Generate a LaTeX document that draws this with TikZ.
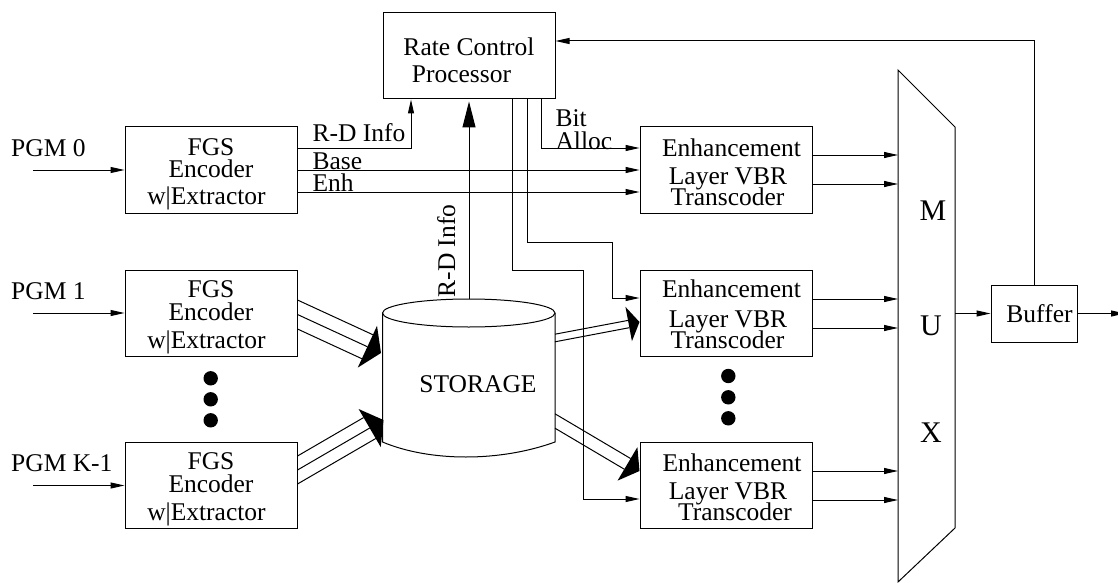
\documentclass[tikz,border=0pt]{standalone}
\usepackage{fontspec}
\setmainfont{Liberation Serif}
\usetikzlibrary{arrows.meta,calc}

% invisible struts that fix the height of a first line / depth of a last line
\newcommand\topst[1]{\rule{0pt}{#1}}
\newcommand\botst{\rule[-6pt]{0pt}{6pt}}

% bundle of parallel wires ending in one wide filled head
% #1 start, #2 tip, #3 head length, #4 head half-width,
% #5 list of (vertical offset at start)/(normal offset at head base)
\newcommand\wirebundle[5]{%
  \coordinate (wb-base) at ($(#2)!#3!(#1)$);
  \foreach \v/\p in {#5}{
    \draw ($(#1)+(0,\v)$) -- ($(wb-base)!\p!90:(#2)$);
  }
  \fill ($(wb-base)!#4!90:(#2)$) -- (#2) -- ($(wb-base)!#4!-90:(#2)$) -- cycle;
}

\tikzset{
  blk/.style={draw, rectangle, minimum width=172pt, minimum height=86pt,
              inner sep=0pt, align=center},
  sig/.style={-{Triangle[length=14pt,width=6pt]}},
  big/.style={-{Triangle[length=26pt,width=13pt]}},
  txt/.style={inner sep=0pt, anchor=base west},
  muxl/.style={inner sep=0pt, anchor=base, font=\fontsize{30}{32}\selectfont},
}

\begin{document}
\begin{tikzpicture}[x=1pt, y=-1pt, line width=1pt,
  every node/.style={font=\fontsize{25.5}{26}\selectfont}]
\useasboundingbox (0,0) rectangle (1118,583);

% ---- processing blocks ----
\node[blk] (rcp) at (469,56) {\topst{33pt}Rate Control\\[1pt]Processor\kern15pt\botst};

\node[blk] (fgs0) at (211,170) {\topst{25pt}FGS\\[-4pt]Encoder\\[1pt]w|Extractor\kern9pt\botst};
\node[blk] (fgs1) at (211,313) {\topst{25pt}FGS\\[-3pt]Encoder\\[2pt]w|Extractor\kern9pt\botst};
\node[blk] (fgsK) at (211,485.5) {\topst{24pt}FGS\\[-3pt]Encoder\\[2pt]w|Extractor\kern9pt\botst};

\node[blk] (enh0) at (726,170) {\topst{27pt}\kern11pt Enhancement\\[2pt]\kern4pt Layer VBR\\[-5pt]\kern3pt Transcoder\botst};
\node[blk] (enh1) at (726,313) {\topst{25pt}\kern11pt Enhancement\\[4pt]\kern4pt Layer VBR\\[-5pt]\kern3pt Transcoder\botst};
\node[blk] (enh2) at (726,485.5) {\topst{26pt}\kern12pt Enhancement\\[2pt]\kern4pt Layer VBR\\[-5pt]\kern18pt Transcoder\botst};

\node[blk, minimum width=86pt, minimum height=57pt] (buf) at (1034,313.5) {\kern11pt Buffer};

% ---- storage cylinder ----
\draw (382.5,313) -- (382.5,442) .. controls (430,462) and (500,462) .. (555,442) -- (555,313);
\draw (468.75,313) ellipse [x radius=86.25pt, y radius=14pt];
\node[inner sep=0pt, anchor=base] (stor) at (478,392.7) {STORAGE};
\coordinate (st-top) at (469,299);

% ---- multiplexer ----
\draw (898,70) -- (955,127) -- (955,528) -- (898,582) -- cycle;
\coordinate (mux-in) at (898,313.5);
\coordinate (mux-out) at (955,313.5);
\node[muxl] (mux-m) at (933,220) {M};
\node[muxl] (mux-u) at (931,335) {U};
\node[muxl] (mux-x) at (931,442.3) {X};

% ---- program inputs ----
\node[txt] (pgm0) at (10.7,156) {PGM 0};
\node[txt] (pgm1) at (10.7,299.3) {PGM 1};
\node[txt] (pgmK) at (10.7,471) {PGM K-1};
\coordinate (in0) at (33,170);
\coordinate (in1) at (33,313);
\coordinate (inK) at (33,485.5);
\draw[sig] (in0) -- (fgs0.west);
\draw[sig] (in1) -- (fgs1.west);
\draw[sig] (inK) -- (fgsK.west);

% ---- encoder 0 outputs ----
\draw[sig] ($(fgs0.east)+(0,-22)$) -| ($(rcp.south)+(-58,0)$);
\draw[sig] (fgs0.east) -- (enh0.west);
\draw[sig] ($(fgs0.east)+(0,22)$) -- ($(enh0.west)+(0,22)$);
\node[txt] (l-rd) at (312,142) {R-D Info};
\node[txt] (l-base) at (312,169) {Base};
\node[txt] (l-enh) at (312,191) {Enh};

% ---- bit allocation from the rate controller ----
\draw[sig] ($(rcp.south)+(72,0)$) |- ($(enh0.west)+(0,-22)$);
\node[txt] (l-bit) at (555,126) {Bit};
\node[txt] (l-alloc) at (555,149) {Alloc};
\coordinate (j1) at (612,242);
\coordinate (j2) at (583,270);
\draw[sig] ($(rcp.south)+(58,0)$) |- (j1) |- ($(enh1.west)+(0,-15)$);
\draw[sig] ($(rcp.south)+(43,0)$) |- (j2) |- ($(enh2.west)+(0,13.5)$);

% ---- R-D information from storage ----
\draw[big] (st-top) -- ($(rcp.south)+(0,2)$);
\node[rotate=90, anchor=base, inner sep=0pt] (l-rdv) at (455,251) {R-D Info};

% ---- wide bundles into and out of storage ----
\coordinate (s1) at ($(fgs1.east)+(0,1.5)$);
\coordinate (t1) at (381,353);
\wirebundle{s1}{t1}{15pt}{23pt}{-14.5/13.2pt, 0/0pt, 14.5/-13.2pt}
\coordinate (s2) at ($(fgsK.east)+(0,-15.5)$);
\coordinate (t2) at (383.5,420);
\wirebundle{s2}{t2}{16pt}{22pt}{-14/12.1pt, 0/0pt, 14/-12.1pt}
\coordinate (s3) at (555,338);
\coordinate (t3) at ($(enh1.west)+(0,9)$);
\wirebundle{s3}{t3}{11pt}{17.5pt}{-3.8/3.7pt, 3.8/-3.7pt}
\coordinate (s4) at (555,421);
\coordinate (t4) at ($(enh2.west)+(0,-14.5)$);
\wirebundle{s4}{t4}{14pt}{19.5pt}{-7.2/6.2pt, 7.2/-6.2pt}

% ---- continuation dots ----
\foreach \y in {378.3,399.3,420.3} \fill (210.7,\y) circle[radius=7.2pt];
\foreach \y in {376,397.3,418.3} \fill (728.3,\y) circle[radius=7.2pt];

% ---- transcoder outputs to the multiplexer ----
\draw[sig] ($(enh0.east)+(0,-15)$) -- ($(enh0.east -| mux-in)+(0,-15)$);
\draw[sig] ($(enh0.east)+(0,14)$) -- ($(enh0.east -| mux-in)+(0,14)$);
\draw[sig] ($(enh1.east)+(0,-14)$) -- ($(enh1.east -| mux-in)+(0,-14)$);
\draw[sig] ($(enh1.east)+(0,15)$) -- ($(enh1.east -| mux-in)+(0,15)$);
\draw[sig] ($(enh2.east)+(0,-14.5)$) -- ($(enh2.east -| mux-in)+(0,-14.5)$);
\draw[sig] ($(enh2.east)+(0,14.5)$) -- ($(enh2.east -| mux-in)+(0,14.5)$);

% ---- multiplexer, buffer and feedback ----
\coordinate (out) at (1125,313.5);
\draw[sig] (mux-out) -- (buf.west);
\draw[sig] (buf.east) -- (out);
\draw[sig] (buf.north) |- ($(rcp.east)+(0,-15)$);
\end{tikzpicture}
\end{document}
